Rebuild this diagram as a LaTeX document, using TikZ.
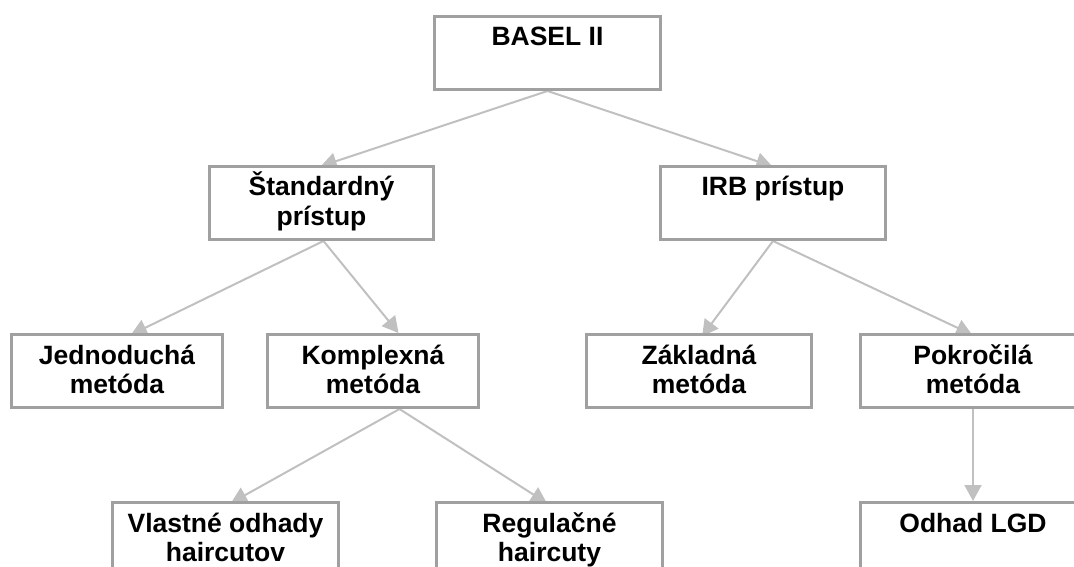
\documentclass[tikz,border=0pt]{standalone}
\usepackage{fontspec}
\setmainfont{Liberation Sans}
\usetikzlibrary{arrows.meta,backgrounds}
\definecolor{boxgray}{RGB}{160,160,160}
\definecolor{arrgray}{RGB}{192,192,192}
\newcommand{\boxtext}[2]{\parbox[t][73pt][t]{#1}{\centering\fontsize{26.5}{29.5}\selectfont\bfseries\rule{0pt}{29.5pt}#2}}
\tikzset{
  box/.style={draw=boxgray, line width=3pt, fill=white, inner sep=0pt, anchor=north west},
  conn/.style={draw=arrgray, line width=2pt, -{Triangle[length=16pt,width=17pt]}},
  sunk/.style={shorten >=-4pt}
}
\begin{document}
\begin{tikzpicture}[x=1pt,y=-1pt]
\useasboundingbox (0,0) rectangle (1074,567);
\clip (0,0) rectangle (1074,567);
\node[box] (basel) at (433,15)  {\boxtext{226pt}{BASEL II}};
\node[box] (std)   at (208,165) {\boxtext{224pt}{Štandardný\\prístup}};
\node[box] (irb)   at (659,165) {\boxtext{225pt}{IRB prístup}};
\node[box] (jed)   at (10,333)  {\boxtext{211pt}{Jednoduchá\\metóda}};
\node[box] (kom)   at (266,333) {\boxtext{211pt}{Komplexná\\metóda}};
\node[box] (zak)   at (585,333) {\boxtext{225pt}{Základná\\metóda}};
\node[box] (pok)   at (859,333) {\boxtext{225pt}{Pokročilá\\metóda}};
\node[box] (vla)   at (111,501) {\boxtext{226pt}{Vlastné odhady\\haircutov}};
\node[box] (reg)   at (435,501) {\boxtext{226pt}{Regulačné\\haircuty}};
\node[box] (odh)   at (859,501) {\boxtext{225pt}{Odhad LGD}};
\begin{scope}[on background layer]
\draw[conn,sunk] (basel.south) -- ([xshift=3pt]std.north);
\draw[conn,sunk] (basel.south) -- ([xshift=-4.5pt]irb.north);
\draw[conn,sunk] ([xshift=2pt]std.south) -- ([xshift=17.5pt]jed.north);
\draw[conn] ([xshift=2pt]std.south) -- ([xshift=25.5pt]kom.north);
\draw[conn,sunk] (irb.south) -- ([xshift=5.5pt]zak.north);
\draw[conn,sunk] (irb.south) -- ([xshift=-4.5pt]pok.north);
\draw[conn,sunk] ([xshift=26.5pt]kom.south) -- ([xshift=9pt]vla.north);
\draw[conn,sunk] ([xshift=26.5pt]kom.south) -- ([xshift=-6pt]reg.north);
\draw[conn] (pok.south) -- (odh.north);
\end{scope}
\end{tikzpicture}
\end{document}
